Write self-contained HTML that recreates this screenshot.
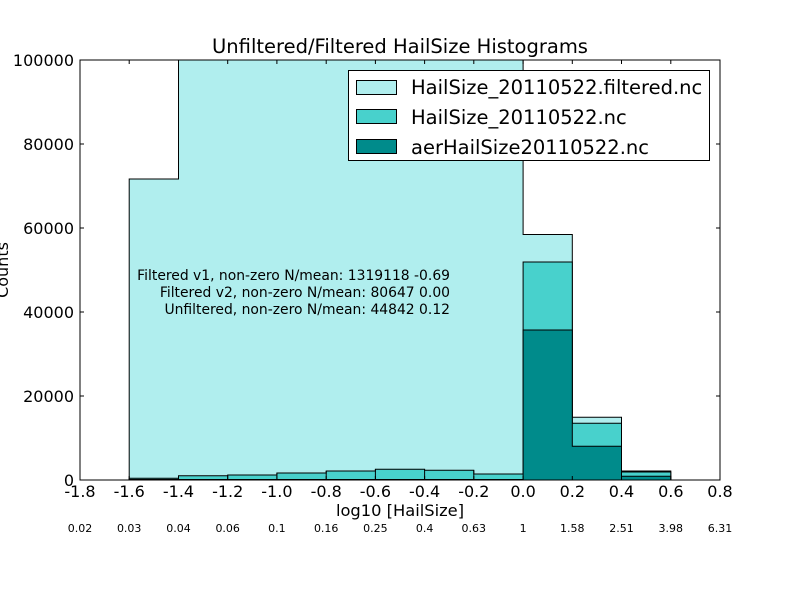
<!DOCTYPE html>
<html><head><meta charset="utf-8"><style>body{margin:0;background:#fff}svg{display:block}text{font-family:"DejaVu Sans","Liberation Sans",sans-serif;fill:#000}</style></head><body>
<svg width="800" height="600" viewBox="0 0 800 600" xmlns="http://www.w3.org/2000/svg">
<rect width="800" height="600" fill="#fff"/>
<g stroke="#000" stroke-width="1">
<path d="M129.2,480 V179 H178.5 V60 H523.1 V234.5 H572.3 V417.3 H621.5 V471 H670.8 V480 Z" fill="#b0eeee"/>
<path d="M129.2,480 V478.3 H178.5 V475.7 H227.7 V475 H276.9 V473 H326.2 V471 H375.4 V469.3 H424.6 V470.3 H473.8 V474 H523.1 V262 H572.3 V423.3 H621.5 V472 H670.8 V480 Z" fill="#48d1cc"/>
<path d="M129.2,480 V479.5 H523.1 V330 H572.3 V446.3 H621.5 V476.3 H670.8 V480 Z" fill="#008b8b"/>
<line x1="178.5" y1="480" x2="178.5" y2="475.7"/><line x1="227.7" y1="480" x2="227.7" y2="475"/><line x1="276.9" y1="480" x2="276.9" y2="473"/><line x1="326.2" y1="480" x2="326.2" y2="471"/><line x1="375.4" y1="480" x2="375.4" y2="469.3"/><line x1="424.6" y1="480" x2="424.6" y2="469.3"/><line x1="473.8" y1="480" x2="473.8" y2="470.3"/>
</g>
<rect x="80" y="60" width="640" height="420" fill="none" stroke="#000" stroke-width="1"/>
<g stroke="#000" stroke-width="1">
<path d="M129.2,480v-4M178.5,480v-4M227.7,480v-4M276.9,480v-4M326.2,480v-4M375.4,480v-4M424.6,480v-4M473.8,480v-4M523.1,480v-4M572.3,480v-4M621.5,480v-4M670.8,480v-4"/>
<path d="M129.2,60v4M178.5,60v4M227.7,60v4M276.9,60v4M326.2,60v4M375.4,60v4M424.6,60v4M473.8,60v4M523.1,60v4M572.3,60v4M621.5,60v4M670.8,60v4"/>
<path d="M80,396h4M80,312h4M80,228h4M80,144h4M720,396h-4M720,312h-4M720,228h-4M720,144h-4"/>
</g>
<text x="400" y="53" font-size="19.5" text-anchor="middle">Unfiltered/Filtered HailSize Histograms</text>
<g font-size="16" text-anchor="end">
<text x="74" y="66">100000</text><text x="74" y="150">80000</text><text x="74" y="234">60000</text><text x="74" y="318">40000</text><text x="74" y="402">20000</text><text x="74" y="486">0</text>
</g>
<g font-size="16" text-anchor="middle">
<text x="80" y="497">-1.8</text><text x="129.2" y="497">-1.6</text><text x="178.5" y="497">-1.4</text><text x="227.7" y="497">-1.2</text><text x="276.9" y="497">-1.0</text><text x="326.2" y="497">-0.8</text><text x="375.4" y="497">-0.6</text><text x="424.6" y="497">-0.4</text><text x="473.8" y="497">-0.2</text><text x="523.1" y="497">0.0</text><text x="572.3" y="497">0.2</text><text x="621.5" y="497">0.4</text><text x="670.8" y="497">0.6</text><text x="720" y="497">0.8</text>
</g>
<text x="400" y="516" font-size="16.3" text-anchor="middle">log10 [HailSize]</text>
<g font-size="11" text-anchor="middle">
<text x="80" y="532">0.02</text><text x="129.2" y="532">0.03</text><text x="178.5" y="532">0.04</text><text x="227.7" y="532">0.06</text><text x="276.9" y="532">0.1</text><text x="326.2" y="532">0.16</text><text x="375.4" y="532">0.25</text><text x="424.6" y="532">0.4</text><text x="473.8" y="532">0.63</text><text x="523.1" y="532">1</text><text x="572.3" y="532">1.58</text><text x="621.5" y="532">2.51</text><text x="670.8" y="532">3.98</text><text x="720" y="532">6.31</text>
</g>
<text transform="translate(8,270) rotate(-90)" font-size="16" text-anchor="middle">Counts</text>
<g font-size="13.9" text-anchor="end">
<text x="450" y="280">Filtered v1, non-zero N/mean: 1319118 -0.69</text>
<text x="450" y="297">Filtered v2, non-zero N/mean: 80647 0.00</text>
<text x="450" y="314">Unfiltered, non-zero N/mean: 44842 0.12</text>
</g>
<rect x="348.5" y="70.5" width="361" height="90" fill="#fff" stroke="#000"/>
<rect x="356.5" y="80.5" width="40" height="14" fill="#b0eeee" stroke="#000"/>
<rect x="356.5" y="109.5" width="40" height="14" fill="#48d1cc" stroke="#000"/>
<rect x="356.5" y="139.5" width="40" height="14" fill="#008b8b" stroke="#000"/>
<g font-size="19.5"><text x="411" y="94">HailSize_20110522.filtered.nc</text><text x="411" y="124">HailSize_20110522.nc</text><text x="411" y="154">aerHailSize20110522.nc</text></g>
</svg>
</body></html>
